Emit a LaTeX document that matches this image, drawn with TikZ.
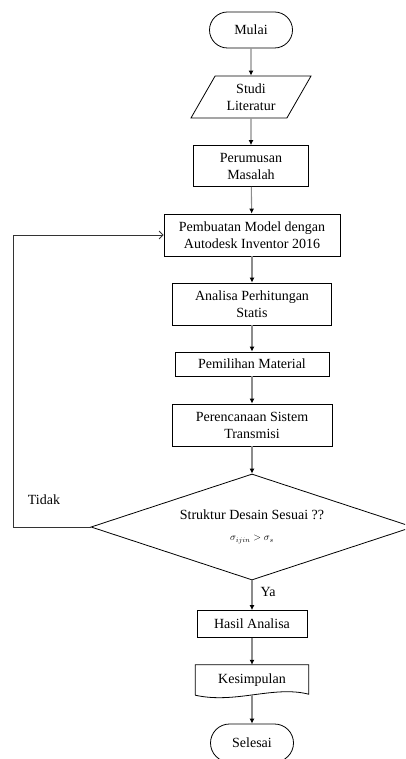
\documentclass[tikz,border=0pt]{standalone}
\usepackage{fontspec}
\setmainfont{Liberation Serif}
\usepackage{tikz}
\usetikzlibrary{arrows.meta}
\usetikzlibrary{shapes.geometric,shapes.misc}

\begin{document}
\begin{tikzpicture}[x=1pt,y=-1pt,
    every node/.style={font=\fontsize{14}{17}\selectfont, align=center, inner sep=2pt},
    proses/.style={draw, line width=0.8pt, rectangle},
    terminal/.style={draw, line width=0.8pt, rounded rectangle, minimum width=87pt},
    masukan/.style={draw, line width=0.8pt, trapezium, trapezium left angle=60, trapezium right angle=120, trapezium stretches=true},
    keputusan/.style={draw, line width=0.8pt, diamond, aspect=3, minimum width=322pt, minimum height=106pt, inner sep=0pt},
    alir/.style={draw=black!45, line width=1.1pt, -{Latex[color=black,length=5pt,width=5pt]}},
    balik/.style={draw=black!80, line width=0.8pt, -{Straight Barb[length=4pt,width=8pt]}}]
	\clip (0,0) rectangle (405,759);
	\useasboundingbox (0,0) rectangle (405,759);
    \node[terminal, minimum height=36pt] (mulai) at (251,30) {Mulai};
    \node[masukan, minimum width=121pt, minimum height=42pt] (studi) at (251,97) {Studi\\Literatur};
    \node[proses, minimum width=115pt, minimum height=41pt] (rumus) at (251,166) {Perumusan\\Masalah};
    \node[proses, minimum width=176pt, minimum height=42pt] (model) at (252,235) {Pembuatan Model dengan\\Autodesk Inventor 2016};
    \node[proses, minimum width=159pt, minimum height=42pt] (statis) at (252,304) {Analisa Perhitungan\\Statis};
    \node[proses, minimum width=154pt, minimum height=24pt] (material) at (252,364) {Pemilihan Material};
    \node[proses, minimum width=160pt, minimum height=42pt] (transmisi) at (252,425) {Perencanaan Sistem\\Transmisi};
    \node[keputusan] (cek) at (252,527) {Struktur Desain Sesuai ??\\[4pt]{\fontsize{10}{12}\selectfont$\sigma_{ijin} > \sigma_{s}$}};
    \node[proses, minimum width=110pt, minimum height=27pt] (hasil) at (252,624) {Hasil Analisa};
    \node[minimum width=113pt, minimum height=30pt] (simpul) at (252,680) {Kesimpulan};
    \node[terminal, minimum height=38pt] (selesai) at (252,743) {Selesai};
    \coordinate (kiri) at (13,527);
    \draw[line width=0.8pt] (simpul.south west) -- (simpul.north west) -- (simpul.north east) -- ([yshift=1pt]simpul.south east) .. controls +(-35,-9) and +(40,9) .. (simpul.south west);
    \draw[alir] (mulai) -- (studi);
    \draw[alir] (studi) -- (rumus);
    \draw[alir] (rumus) -- (model);
    \draw[alir] (model) -- (statis);
    \draw[alir] (statis) -- (material);
    \draw[alir] (material) -- (transmisi);
    \draw[alir] (transmisi) -- (cek);
    \draw[alir] (cek) -- node[right=6pt, pos=0.4] {Ya} (hasil);
    \draw[alir] (hasil) -- (simpul);
    \draw[alir] (simpul) -- (selesai);
    \draw[balik] (cek.west) -- (kiri) |- (model.west);
    \node (tidak) at (44,500) {Tidak};
\end{tikzpicture}
\end{document}
